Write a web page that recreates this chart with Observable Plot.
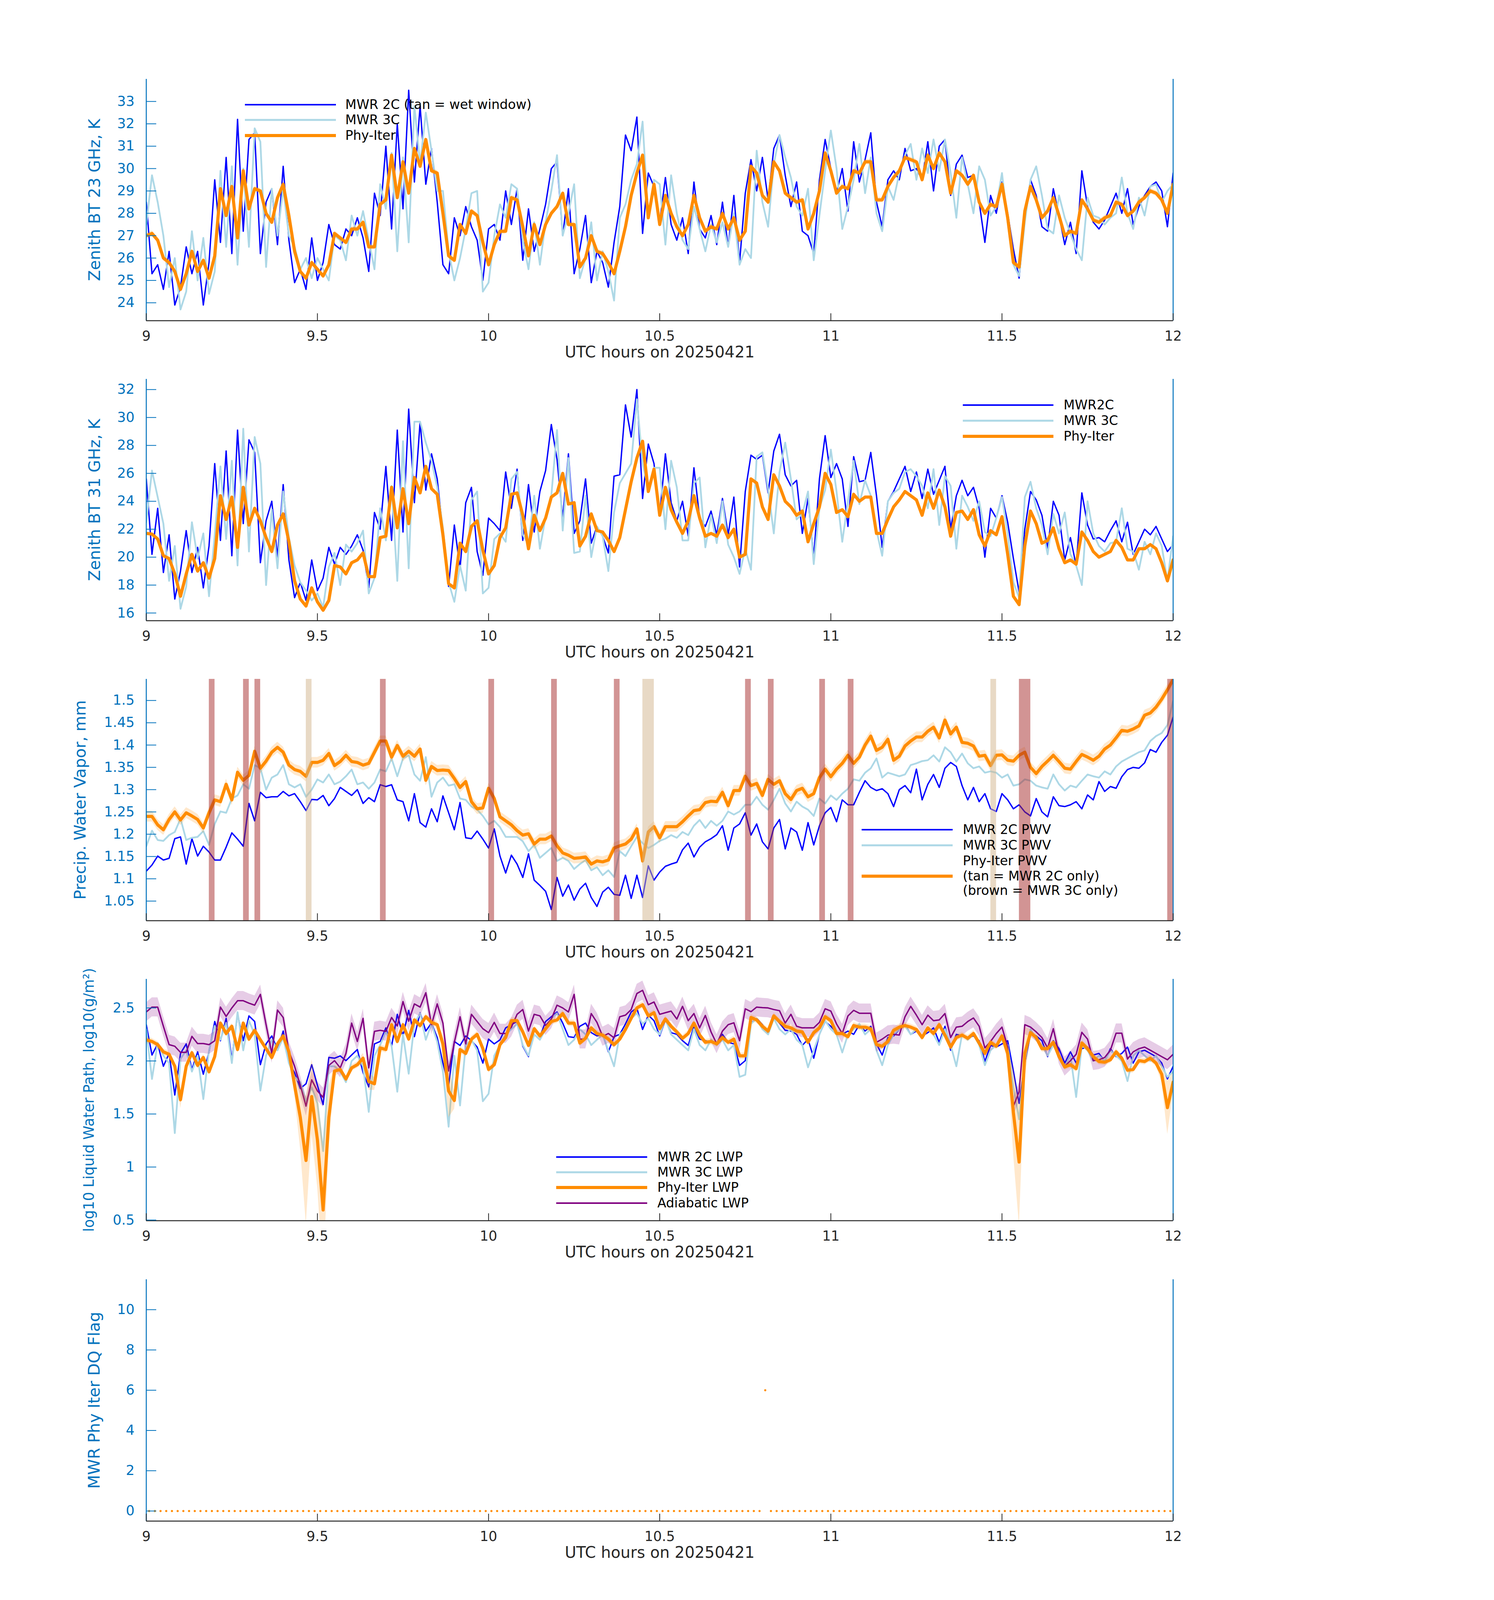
<!DOCTYPE html>
<html>
<head>
<meta charset="utf-8">
<script src="https://cdn.jsdelivr.net/npm/d3@7"></script>
<script src="https://cdn.jsdelivr.net/npm/@observablehq/plot@0.6"></script>
<style>
  html, body { margin: 0; padding: 0; background: #ffffff; overflow: hidden; }
  #page { position: relative; width: 3825px; background: #ffffff; font-family: "DejaVu Sans", sans-serif; overflow: hidden; }
  .lg { position: absolute; white-space: nowrap; line-height: 1; transform: translateY(-50%); color: #000; }
  .sw { position: absolute; transform: translateY(-50%); }
</style>
</head>
<body>
<div id="page"></div>
<script>
// ---------------- tick labels ----------------
const xTicks = [9, 9.5, 10, 10.5, 11, 11.5, 12];
const yTicks23 = [24, 25, 26, 27, 28, 29, 30, 31, 32, 33];
const yTicks31 = [16, 18, 20, 22, 24, 26, 28, 30, 32];
const yTicksPwv = [1.05, 1.1, 1.15, 1.2, 1.25, 1.3, 1.35, 1.4, 1.45, 1.5];
const yTicksLwp = [0.5, 1, 1.5, 2, 2.5];
const yTicksFlag = [0, 2, 4, 6, 8, 10];

// ---------------- panel 1: 23 GHz BT (K), one value per minute 9:00-12:00 ----------------
const tb23_2C = [
28.5,25.3,25.7,24.6,26.3,23.9,24.7,26.5,25.3,26.3,
23.9,25.8,29.5,26.7,30.5,26.2,32.2,27.2,31.3,31.6,
26.2,28.5,29.1,26.6,30.1,26.8,24.9,25.5,24.6,26.9,
25.0,25.8,27.5,26.6,26.4,27.3,27.0,27.8,26.9,25.4,
28.9,27.9,31.0,27.3,32.0,28.2,33.5,29.4,32.8,29.3,
30.9,28.5,25.7,25.3,27.8,27.0,28.3,27.4,26.8,25.0,
27.3,27.5,26.8,29.0,27.5,29.1,25.9,28.2,26.3,27.3,
28.4,30.0,30.3,27.0,29.1,25.3,26.4,27.9,24.9,26.3,
25.8,24.7,26.7,28.3,31.5,30.8,32.3,27.1,29.8,29.2,
27.6,29.6,27.5,26.8,27.8,26.2,29.4,27.3,26.9,27.9,
26.6,28.5,26.5,28.8,25.8,28.9,30.4,29.0,30.5,28.6,
30.9,31.5,29.7,28.3,29.4,27.2,27.0,26.2,29.5,31.3,
30.0,28.9,30.0,28.1,31.2,29.4,30.4,31.6,28.5,27.4,
29.5,29.9,29.5,30.9,29.9,30.0,29.5,31.2,29.0,31.0,
31.3,28.8,30.2,30.6,29.6,29.7,28.5,26.7,28.8,28.0,
29.4,28.0,26.4,25.1,27.8,29.5,28.8,27.4,27.2,29.1,
27.9,26.6,27.6,26.2,29.9,28.3,27.6,27.3,27.7,28.3,
28.9,28.0,29.1,27.5,28.3,28.8,29.2,29.4,29.0,27.4,
29.8];
const tb23_3C = [
27.5,29.7,28.5,27.0,24.7,26.0,23.7,24.5,27.2,25.0,
26.9,24.4,25.4,29.9,26.5,30.1,25.7,30.0,26.5,31.8,
31.2,25.6,29.1,27.0,29.1,27.0,26.5,25.5,26.0,25.1,
26.0,25.5,25.0,27.0,26.8,25.9,27.9,27.0,28.1,26.8,
25.5,29.3,28.2,30.7,26.3,30.5,26.7,32.8,30.2,32.5,
30.8,29.0,29.0,26.3,25.0,26.0,27.3,28.9,29.0,24.5,
24.9,27.0,28.4,27.8,29.3,29.1,26.8,25.5,27.6,25.7,
27.6,29.0,30.6,27.0,28.0,29.3,25.1,26.0,27.6,25.0,
26.3,25.4,24.1,27.8,28.4,29.5,30.2,32.1,27.8,29.5,
29.3,26.6,29.7,28.0,26.8,26.4,28.3,27.3,26.3,27.5,
26.7,27.6,26.5,28.0,25.7,26.4,26.0,30.8,28.5,27.4,
30.2,31.5,30.5,29.6,28.3,27.9,29.1,25.9,27.9,29.9,
31.7,30.0,27.3,28.3,29.5,31.1,28.9,30.5,28.0,27.2,
29.2,28.6,29.8,30.6,31.1,29.5,30.9,29.8,31.3,29.9,
31.3,29.8,27.8,30.5,29.3,28.0,30.1,29.5,27.9,28.3,
29.8,27.6,25.7,25.2,27.6,29.5,30.1,28.8,27.3,27.1,
28.8,27.8,27.1,26.4,25.9,28.7,27.9,27.8,27.5,27.8,
28.0,29.6,28.0,27.3,28.7,27.9,29.2,29.3,28.5,29.0,
29.3];
const tb23_phy = [
27.0,27.1,26.8,26.0,25.8,25.4,24.6,25.3,26.3,25.4,
25.9,25.1,26.1,29.1,27.9,29.2,26.9,29.9,28.2,29.1,
29.0,28.0,27.6,28.7,29.3,27.9,26.3,25.4,25.1,25.8,
25.5,25.2,25.7,27.1,26.9,26.7,27.3,27.3,27.6,26.5,
26.5,28.4,28.6,30.6,28.7,30.3,28.9,30.9,30.1,31.3,
29.9,29.8,28.0,26.1,25.9,27.5,27.1,28.1,27.9,26.7,
25.7,26.6,27.2,27.2,28.7,28.6,27.4,26.1,27.5,26.6,
27.5,28.0,28.3,28.9,27.5,27.5,25.6,26.0,27.0,26.3,
26.2,25.8,25.3,26.3,27.4,28.8,29.8,30.6,27.8,29.3,
27.5,28.8,28.0,27.4,27.0,27.5,28.8,27.8,27.2,27.4,
27.3,28.0,27.3,27.8,26.8,27.2,30.1,29.8,28.8,28.5,
30.3,29.9,28.9,28.7,28.5,28.6,27.3,28.0,29.0,30.7,
29.9,28.9,29.2,29.1,29.9,29.8,30.3,30.3,28.6,28.6,
29.2,29.6,29.9,30.5,30.4,30.3,29.5,30.6,30.0,30.7,
30.3,28.9,29.9,29.7,29.3,29.7,28.5,28.0,28.4,28.3,
29.3,27.8,25.8,25.6,28.1,29.2,28.6,27.8,28.1,28.7,
27.9,27.0,27.2,27.1,28.6,28.2,27.7,27.6,27.8,27.9,
28.5,28.4,27.9,28.1,28.5,28.7,29.0,28.9,28.6,28.0,
29.3];
const tb23_phyErr = 0.12;

// ---------------- panel 2: 31 GHz BT (K) ----------------
const tb31_2C = [
25.6,20.2,23.5,18.9,21.6,17.0,19.0,21.9,18.9,20.7,
17.8,20.8,26.7,21.2,27.6,20.1,29.1,22.4,28.4,27.5,
19.6,22.6,24.0,20.0,25.2,19.8,17.1,18.2,16.9,19.8,
17.6,18.5,20.7,19.5,20.7,20.2,20.8,21.6,20.5,17.8,
23.2,22.0,26.5,21.2,29.1,21.8,30.6,23.9,29.7,24.8,
27.4,25.6,21.8,17.9,22.3,19.2,23.9,25.0,20.4,18.7,
22.8,22.4,21.9,26.1,23.5,26.3,21.2,25.2,21.8,24.7,
26.2,29.5,27.0,22.8,27.4,21.7,22.6,25.6,21.0,22.2,
21.5,20.3,25.8,25.9,30.9,28.6,32.0,24.2,28.1,26.7,
23.0,27.4,23.9,22.6,24.0,21.5,26.4,22.8,22.2,23.3,
21.6,24.2,21.6,24.3,19.3,24.7,27.3,27.0,27.3,24.6,
27.6,28.8,25.9,25.1,25.5,21.7,24.2,20.0,25.6,28.7,
25.7,26.7,25.6,22.2,27.2,25.4,25.5,27.5,24.4,20.7,
24.0,24.7,25.6,26.5,24.7,26.1,24.2,26.3,24.5,25.5,
26.5,22.0,24.4,25.5,24.4,25.0,23.5,20.0,23.5,22.8,
24.4,22.5,19.9,17.5,22.0,24.7,24.1,23.0,20.6,24.0,
23.0,19.8,21.4,19.4,24.6,22.3,21.3,21.4,21.1,21.9,
22.6,21.1,22.5,20.2,21.1,22.0,21.6,22.2,21.3,20.4,
20.9];
const tb31_3C = [
22.5,26.2,24.3,22.4,18.3,20.8,16.3,17.9,22.5,19.9,
21.7,17.2,21.6,26.5,21.3,26.9,19.4,29.2,20.4,28.6,
26.7,18.0,23.4,19.2,24.7,21.4,19.4,18.2,17.6,16.9,
17.4,16.4,19.3,20.3,18.0,20.9,20.4,21.0,21.9,17.4,
18.5,23.5,21.2,25.1,18.3,28.3,19.2,29.7,29.7,28.2,
26.9,25.0,22.1,18.2,16.8,19.4,17.6,24.1,24.7,17.4,
17.8,21.3,21.7,21.1,25.6,26.1,21.6,20.9,24.4,20.6,
22.9,24.4,29.1,21.9,27.1,20.3,20.4,24.4,20.0,22.2,
21.5,19.0,23.2,25.3,26.0,26.7,31.3,26.7,24.9,26.4,
26.4,22.0,26.9,25.0,21.2,21.2,25.3,25.7,20.7,23.0,
21.0,24.0,20.9,20.0,18.8,20.6,19.1,27.2,27.5,24.9,
21.7,26.1,28.2,25.6,22.7,23.1,24.7,19.5,23.5,24.8,
27.7,24.7,21.1,24.0,26.9,23.8,25.5,24.4,21.9,20.1,
24.0,24.6,24.9,26.1,26.3,25.8,25.1,23.5,26.3,22.3,
25.8,25.1,20.6,24.4,23.6,22.6,24.0,21.8,21.5,22.8,
24.3,21.7,18.2,17.1,24.3,25.4,23.5,22.3,20.2,23.1,
21.7,23.2,20.2,19.4,18.0,24.0,21.7,20.8,20.4,21.0,
21.1,23.5,20.6,20.4,19.1,21.1,20.2,21.7,20.8,18.3,
21.5];
const tb31_phy = [
21.7,21.65,21.3,20.1,19.9,18.8,17.2,18.8,20.2,19.0,
19.6,18.5,19.9,24.4,22.7,24.3,20.7,25.0,22.3,23.5,
22.6,21.4,20.4,22.3,23.1,21.1,18.3,17.0,16.5,17.8,
16.8,16.2,16.9,19.4,19.3,18.8,19.6,19.8,20.3,18.6,
18.6,21.4,21.5,25.0,22.1,24.9,22.4,25.7,24.6,26.5,
24.9,24.5,21.6,18.1,17.8,21.0,20.4,22.2,22.6,20.5,
18.8,19.4,21.4,22.1,24.5,24.6,23.0,20.6,23.0,21.9,
22.8,24.3,24.6,26.0,23.8,23.9,20.8,21.5,23.1,21.9,
21.8,21.2,20.4,21.4,23.4,25.4,27.1,28.3,24.7,26.3,
23.0,25.0,23.4,22.5,21.7,22.6,24.4,22.8,21.5,21.7,
21.5,22.3,21.4,22.0,20.0,20.2,25.6,25.3,23.6,22.7,
25.9,25.1,24.0,23.6,23.0,23.3,21.1,22.4,23.6,26.0,
25.2,23.2,23.4,22.9,24.5,24.0,24.3,24.3,21.7,21.7,
22.7,23.6,24.1,24.7,24.4,24.1,23.0,24.6,23.5,24.8,
23.6,21.5,23.2,23.3,22.7,23.4,21.6,20.8,21.9,21.6,
22.9,20.2,17.2,16.6,20.8,23.3,22.4,21.0,21.2,22.1,
20.6,19.6,19.8,19.5,21.8,21.2,20.4,20.0,20.2,20.4,
21.2,20.7,19.8,19.8,20.6,20.6,20.9,20.6,19.6,18.3,
19.8];
const tb31_phyErr = 0.1;

// ---------------- panel 3: precipitable water vapour (mm) ----------------
const pwv2C = [
1.117,1.131,1.151,1.142,1.146,1.190,1.194,1.133,1.190,1.151,
1.173,1.160,1.142,1.142,1.171,1.203,1.189,1.173,1.269,1.230,
1.294,1.282,1.284,1.284,1.296,1.286,1.291,1.273,1.253,1.278,
1.277,1.287,1.264,1.280,1.305,1.296,1.287,1.300,1.269,1.282,
1.273,1.311,1.307,1.311,1.277,1.273,1.230,1.291,1.226,1.216,
1.257,1.228,1.286,1.248,1.210,1.271,1.192,1.190,1.207,1.189,
1.169,1.212,1.151,1.113,1.153,1.133,1.103,1.156,1.097,1.085,
1.072,1.031,1.103,1.061,1.086,1.052,1.077,1.090,1.058,1.038,
1.070,1.081,1.065,1.063,1.108,1.056,1.108,1.058,1.129,1.097,
1.115,1.128,1.133,1.137,1.165,1.180,1.149,1.171,1.183,1.190,
1.199,1.219,1.164,1.214,1.223,1.248,1.198,1.223,1.183,1.167,
1.214,1.233,1.167,1.214,1.205,1.164,1.226,1.176,1.219,1.248,
1.260,1.228,1.277,1.266,1.266,1.294,1.320,1.305,1.298,1.302,
1.291,1.262,1.300,1.309,1.293,1.346,1.277,1.312,1.334,1.305,
1.348,1.361,1.352,1.309,1.277,1.305,1.273,1.291,1.257,1.251,
1.291,1.277,1.257,1.266,1.250,1.241,1.280,1.250,1.239,1.284,
1.264,1.262,1.266,1.273,1.257,1.288,1.277,1.318,1.296,1.307,
1.303,1.329,1.345,1.350,1.348,1.360,1.390,1.384,1.406,1.422,
1.463];
const pwv3C = [
1.173,1.208,1.187,1.185,1.198,1.205,1.235,1.187,1.192,1.194,
1.207,1.176,1.223,1.251,1.248,1.280,1.287,1.312,1.302,1.355,
1.348,1.300,1.327,1.334,1.355,1.312,1.305,1.312,1.284,1.300,
1.323,1.316,1.334,1.312,1.318,1.330,1.345,1.312,1.316,1.302,
1.316,1.345,1.341,1.370,1.330,1.370,1.377,1.334,1.320,1.373,
1.284,1.316,1.327,1.309,1.312,1.280,1.277,1.262,1.255,1.241,
1.222,1.230,1.216,1.194,1.194,1.194,1.184,1.162,1.176,1.147,
1.158,1.169,1.140,1.147,1.140,1.122,1.133,1.142,1.119,1.126,
1.108,1.119,1.104,1.162,1.151,1.173,1.194,1.180,1.169,1.176,
1.185,1.190,1.198,1.192,1.205,1.198,1.219,1.232,1.214,1.230,
1.219,1.230,1.251,1.244,1.251,1.266,1.266,1.284,1.266,1.255,
1.277,1.302,1.269,1.251,1.273,1.262,1.255,1.241,1.280,1.269,
1.287,1.277,1.291,1.302,1.323,1.320,1.338,1.348,1.370,1.327,
1.338,1.334,1.330,1.334,1.355,1.359,1.364,1.366,1.377,1.363,
1.395,1.384,1.363,1.381,1.359,1.348,1.352,1.338,1.341,1.338,
1.327,1.334,1.309,1.312,1.323,1.320,1.309,1.305,1.302,1.334,
1.312,1.298,1.309,1.305,1.320,1.334,1.330,1.327,1.341,1.334,
1.352,1.363,1.370,1.377,1.384,1.388,1.409,1.420,1.427,1.445,
1.499];
const pwvPhy = [
1.240,1.240,1.221,1.210,1.233,1.250,1.232,1.248,1.241,1.233,
1.214,1.248,1.277,1.273,1.312,1.277,1.339,1.321,1.332,1.386,
1.348,1.364,1.384,1.395,1.384,1.355,1.345,1.341,1.330,1.361,
1.361,1.366,1.381,1.354,1.363,1.377,1.363,1.361,1.355,1.359,
1.384,1.409,1.409,1.373,1.399,1.375,1.386,1.375,1.391,1.321,
1.352,1.343,1.344,1.343,1.325,1.305,1.318,1.273,1.257,1.259,
1.303,1.280,1.239,1.230,1.221,1.208,1.198,1.201,1.178,1.189,
1.189,1.196,1.174,1.158,1.153,1.146,1.147,1.149,1.133,1.140,
1.138,1.142,1.169,1.174,1.178,1.189,1.212,1.140,1.205,1.217,
1.192,1.217,1.217,1.217,1.228,1.241,1.253,1.255,1.271,1.274,
1.273,1.294,1.264,1.298,1.298,1.330,1.309,1.314,1.287,1.323,
1.312,1.320,1.291,1.278,1.298,1.303,1.284,1.291,1.327,1.346,
1.329,1.346,1.359,1.377,1.359,1.373,1.400,1.420,1.388,1.395,
1.413,1.366,1.375,1.398,1.409,1.418,1.418,1.431,1.440,1.416,
1.456,1.425,1.440,1.406,1.404,1.398,1.375,1.377,1.354,1.377,
1.378,1.366,1.364,1.377,1.384,1.350,1.336,1.352,1.364,1.377,
1.363,1.348,1.346,1.363,1.379,1.373,1.366,1.375,1.391,1.400,
1.416,1.433,1.431,1.436,1.443,1.467,1.472,1.485,1.503,1.524,
1.547];
const pwvPhyErr = 0.012;
// shaded flags, in minutes after 09:00
const tanStart = [28, 87, 148];
const tanEnd   = [29, 89, 149];
const brownStart = [11, 17, 19, 41, 60, 71, 82, 105, 109, 118, 123, 153, 179];
const brownEnd   = [12, 18, 20, 42, 61, 72, 83, 106, 110, 119, 124, 155, 180];

// ---------------- panel 4: log10 liquid water path ----------------
const lwp2C = [
2.342,2.056,2.161,1.950,2.071,1.679,2.071,2.161,1.920,2.086,
1.875,2.086,2.372,2.191,2.402,2.018,2.440,2.191,2.425,2.372,
1.965,2.161,2.236,2.108,2.282,1.980,1.890,1.740,1.785,1.965,
1.770,1.589,2.033,2.026,2.048,2.003,2.056,2.108,1.890,1.755,
2.161,2.184,2.312,2.139,2.440,2.236,2.477,2.229,2.455,2.282,
2.357,2.221,1.980,1.770,2.184,2.146,2.236,2.191,2.131,1.980,
2.206,2.161,2.199,2.312,2.342,2.372,2.139,2.041,2.297,2.229,
2.372,2.417,2.462,2.357,2.229,2.221,2.327,2.357,2.267,2.236,
2.251,2.086,2.229,2.251,2.349,2.462,2.500,2.297,2.432,2.380,
2.236,2.387,2.267,2.251,2.191,2.146,2.327,2.206,2.191,2.176,
2.161,2.251,2.176,2.161,1.958,2.003,2.357,2.402,2.342,2.267,
2.417,2.357,2.289,2.282,2.251,2.146,2.206,2.026,2.251,2.372,
2.327,2.267,2.251,2.282,2.251,2.342,2.282,2.327,2.161,2.056,
2.221,2.236,2.297,2.342,2.251,2.282,2.236,2.267,2.312,2.176,
2.327,2.101,2.251,2.236,2.221,2.236,2.191,1.995,2.146,2.131,
2.161,2.191,1.905,1.600,1.980,2.251,2.236,2.191,2.041,2.191,
2.116,1.980,2.086,1.980,2.116,2.131,2.056,2.071,1.995,2.116,
2.041,2.071,2.131,1.980,2.086,2.101,2.071,2.041,1.980,1.830,
1.950];
const lwp3C = [
2.30,1.83,2.17,2.05,1.98,1.32,2.02,2.10,1.90,2.05,
1.64,2.10,2.33,2.20,2.36,1.98,2.46,2.10,2.38,2.25,
1.72,2.05,2.20,2.10,2.22,1.98,1.85,1.80,1.62,1.75,
1.60,1.15,1.95,1.95,1.90,1.80,2.00,2.05,1.95,1.52,
2.05,2.15,2.28,2.14,1.71,2.25,1.88,2.35,2.45,2.20,
2.35,2.18,1.90,1.38,2.05,1.58,2.15,2.20,2.10,1.62,
1.69,2.05,2.15,2.25,2.30,2.35,2.15,2.05,2.25,2.20,
2.30,2.40,2.45,2.30,2.15,2.20,2.30,2.25,2.15,2.20,
2.25,2.10,1.95,2.25,2.30,2.40,2.45,2.35,2.40,2.30,
2.25,2.40,2.25,2.20,2.15,2.10,2.30,2.15,2.10,2.20,
2.15,2.20,2.10,2.15,1.85,1.87,2.35,2.40,2.30,2.25,
2.40,2.30,2.25,2.30,2.20,2.15,1.94,2.10,2.25,2.38,
2.30,2.25,2.08,2.25,2.30,2.35,2.25,2.30,2.10,1.96,
2.15,2.25,2.30,2.33,2.25,2.30,2.22,2.30,2.25,2.15,
2.30,2.15,1.95,2.25,2.20,2.25,2.15,1.96,2.10,2.15,
2.20,2.15,1.75,1.45,2.00,2.30,2.20,2.15,2.05,2.15,
2.05,1.95,2.05,1.66,2.15,2.10,2.00,2.05,2.00,2.10,
2.05,2.00,1.81,2.05,2.10,2.05,2.00,2.05,1.95,1.85,
1.90];
const lwpPhy = [
2.199,2.184,2.154,2.086,2.063,1.950,1.634,1.950,2.078,1.958,
2.033,1.898,2.041,2.357,2.259,2.327,2.108,2.357,2.206,2.289,
2.199,2.116,2.033,2.161,2.236,2.086,1.770,1.468,1.062,1.664,
1.257,0.595,1.468,1.905,1.920,1.830,1.935,1.965,2.026,1.807,
1.785,2.123,2.108,2.342,2.184,2.342,2.206,2.387,2.334,2.417,
2.364,2.342,2.161,1.717,1.627,2.108,2.071,2.206,2.251,2.116,
1.920,1.965,2.154,2.221,2.380,2.380,2.274,2.146,2.304,2.236,
2.304,2.372,2.387,2.447,2.357,2.357,2.169,2.214,2.312,2.259,
2.244,2.206,2.154,2.206,2.297,2.402,2.500,2.530,2.425,2.455,
2.304,2.395,2.327,2.274,2.214,2.259,2.357,2.244,2.176,2.184,
2.161,2.221,2.176,2.206,2.048,2.048,2.410,2.387,2.327,2.282,
2.425,2.372,2.327,2.312,2.282,2.274,2.176,2.267,2.312,2.417,
2.380,2.259,2.259,2.229,2.334,2.319,2.319,2.304,2.154,2.139,
2.184,2.289,2.319,2.334,2.319,2.297,2.221,2.312,2.259,2.342,
2.244,2.131,2.221,2.244,2.214,2.259,2.169,2.071,2.176,2.139,
2.236,2.071,1.514,1.047,2.071,2.267,2.221,2.116,2.116,2.176,
2.041,1.943,1.965,1.928,2.169,2.116,2.041,1.995,1.988,2.011,
2.086,2.026,1.913,1.920,2.003,1.995,2.026,1.980,1.875,1.560,
1.800];
const lwpPhyErr = [
.03,.03,.03,.03,.03,.03,.08,.03,.03,.03,
.03,.03,.03,.03,.03,.03,.03,.03,.03,.03,
.03,.03,.03,.03,.03,.03,.10,.30,.60,.35,
.45,.60,.30,.05,.03,.03,.03,.03,.05,.08,
.06,.03,.03,.03,.03,.03,.03,.03,.03,.03,
.03,.03,.08,.25,.08,.03,.03,.03,.03,.03,
.03,.03,.03,.03,.03,.03,.03,.03,.03,.03,
.03,.03,.03,.03,.03,.03,.03,.03,.03,.03,
.03,.03,.03,.03,.03,.03,.03,.03,.03,.03,
.03,.03,.03,.03,.03,.03,.03,.03,.03,.03,
.03,.03,.03,.03,.03,.03,.03,.03,.03,.03,
.03,.03,.03,.03,.03,.03,.03,.03,.03,.03,
.03,.03,.03,.03,.03,.03,.03,.03,.03,.03,
.03,.03,.03,.03,.03,.03,.03,.03,.03,.03,
.03,.03,.03,.03,.03,.03,.03,.03,.03,.03,
.03,.08,.40,.60,.25,.03,.03,.03,.03,.03,
.03,.03,.03,.03,.03,.03,.03,.03,.03,.03,
.03,.03,.03,.03,.03,.03,.03,.03,.08,.25,
.10];
const lwpAdi = [
2.462,2.508,2.508,2.327,2.154,2.139,2.081,2.081,2.232,2.164,
2.164,2.154,2.191,2.508,2.420,2.500,2.568,2.568,2.545,2.526,
2.628,2.342,2.071,2.480,2.410,2.093,1.950,1.770,1.574,1.822,
1.717,1.657,1.958,2.003,1.935,2.071,2.357,2.184,2.402,1.935,
2.279,2.289,2.279,2.410,2.330,2.560,2.375,2.538,2.508,2.643,
2.342,2.538,2.357,1.905,2.176,2.417,2.161,2.440,2.372,2.304,
2.267,2.364,2.259,2.259,2.319,2.440,2.485,2.282,2.440,2.425,
2.334,2.395,2.526,2.500,2.462,2.628,2.206,2.206,2.447,2.364,
2.232,2.259,2.218,2.417,2.432,2.485,2.636,2.666,2.530,2.556,
2.440,2.455,2.470,2.395,2.515,2.380,2.447,2.312,2.429,2.274,
2.161,2.282,2.342,2.360,2.191,2.492,2.465,2.508,2.503,2.500,
2.485,2.474,2.357,2.440,2.327,2.312,2.312,2.312,2.364,2.492,
2.470,2.349,2.259,2.425,2.477,2.450,2.450,2.450,2.176,2.206,
2.244,2.251,2.244,2.417,2.515,2.432,2.342,2.432,2.380,2.387,
2.447,2.221,2.319,2.327,2.372,2.405,2.327,2.123,2.184,2.259,
2.319,2.131,1.574,1.709,2.342,2.319,2.274,2.221,2.123,2.304,
2.063,1.950,2.003,2.063,2.270,2.206,2.003,2.011,2.033,2.101,
2.262,2.262,2.018,2.086,2.116,2.131,2.101,2.071,2.041,2.011,
2.063];
const lwpAdiErr = 0.09;

// ---------------- panel 5: data-quality flag, one per minute (centred on the half minute) ----------------
const dqFlag = [
0,0,0,0,0,0,0,0,0,0, 0,0,0,0,0,0,0,0,0,0, 0,0,0,0,0,0,0,0,0,0,
0,0,0,0,0,0,0,0,0,0, 0,0,0,0,0,0,0,0,0,0, 0,0,0,0,0,0,0,0,0,0,
0,0,0,0,0,0,0,0,0,0, 0,0,0,0,0,0,0,0,0,0, 0,0,0,0,0,0,0,0,0,0,
0,0,0,0,0,0,0,0,0,0, 0,0,0,0,0,0,0,0,6,0, 0,0,0,0,0,0,0,0,0,0,
0,0,0,0,0,0,0,0,0,0, 0,0,0,0,0,0,0,0,0,0, 0,0,0,0,0,0,0,0,0,0,
0,0,0,0,0,0,0,0,0,0, 0,0,0,0,0,0,0,0,0,0, 0,0,0,0,0,0,0,0,0,0];

// ---------------- time grids ----------------
const tMin = d3.range(tb23_2C.length).map(i => 9 + i / 60);
const tFlag = d3.range(dqFlag.length).map(i => 9 + (i + 0.5) / 60);
const toHour = m => 9 + m / 60;

// ---------------- layout (design is 3825 x 6000; compress vertically if the window is shorter) ----------------
const DESIGN_H = 6000;
const K = Math.min(1, (window.innerHeight || DESIGN_H) / DESIGN_H);
const FS = Math.pow(K, 0.35);
const page = document.getElementById("page");
page.style.height = Math.floor(DESIGN_H * K) + "px";

const AX = "#0072BD", DARK = "#262626";
const C2 = "#0000FF", C3 = "#ADD8E6", CP = "#FF8C00", CA = "#800080";
const FONT = "DejaVu Sans";

function panel({top, bottom, yDomain, yTicks, yFormat, yLabel, labelX, labelEm, marks}) {
  const T = top * K, B = bottom * K, h = B - T;
  const mt = 60 * K, mb = 200 * K;
  const labelSize = Math.min(47 * FS, 1.1 * h / labelEm);
  const svg = Plot.plot({
    width: 3825, height: Math.round(h + mt + mb),
    marginLeft: 374, marginRight: 822, marginTop: mt, marginBottom: mb,
    style: {fontFamily: FONT, background: "none", overflow: "visible"},
    x: {domain: [9, 12]},
    y: {domain: yDomain},
    marks: [
      ...marks,
      Plot.ruleX([9], {stroke: AX, strokeWidth: 2.5}),
      Plot.ruleX([12], {stroke: AX, strokeWidth: 2.5}),
      Plot.ruleY([yDomain[0]], {stroke: DARK, strokeWidth: 2.5}),
      Plot.axisY(yTicks, {anchor: "left", tickSize: -26, tickPadding: 56, color: AX, strokeWidth: 2,
        fontSize: 40 * FS, tickFormat: yFormat || (d => String(d)), label: null}),
      Plot.axisX(xTicks, {anchor: "bottom", tickSize: -27 * K, tickPadding: 27 * K + 38 * K, color: DARK, strokeWidth: 2,
        fontSize: 40 * FS, tickFormat: d => String(d), label: null}),
      Plot.text([yLabel], {text: d => d, frameAnchor: "left", dx: labelX - 374, rotate: -90,
        textAnchor: "middle", lineAnchor: "middle", fontSize: labelSize, fill: AX}),
      Plot.text(["UTC hours on 20250421"], {text: d => d, frameAnchor: "bottom", dy: 119 * K,
        textAnchor: "middle", lineAnchor: "middle", fontSize: 46 * FS, fill: DARK})
    ]
  });
  svg.style.position = "absolute";
  svg.style.left = "0px";
  svg.style.top = (T - mt) + "px";
  page.appendChild(svg);
}

function line(values, stroke, w, xs) {
  return Plot.lineY(values, {x: xs || tMin, stroke, strokeWidth: w, strokeLinejoin: "round", clip: true});
}
function band(values, err, fill, op) {
  const e = i => Array.isArray(err) ? err[i] : err;
  return Plot.areaY(values, {x: tMin, y1: values.map((v, i) => v - e(i)), y2: values.map((v, i) => v + e(i)),
    fill, fillOpacity: op, clip: true});
}

// Panel 1
panel({top: 296, bottom: 1202, yDomain: [23.2, 34.0], yTicks: yTicks23, yLabel: "Zenith BT 23 GHz, K", labelX: 242, labelEm: 10.2,
  marks: [line(tb23_2C, C2, 3.5), line(tb23_3C, C3, 4.5), band(tb23_phy, tb23_phyErr, CP, 0.2), line(tb23_phy, CP, 8)]});
// Panel 2
panel({top: 1421, bottom: 2327, yDomain: [15.45, 32.75], yTicks: yTicks31, yLabel: "Zenith BT 31 GHz, K", labelX: 242, labelEm: 10.2,
  marks: [line(tb31_2C, C2, 3.5), line(tb31_3C, C3, 4.5), band(tb31_phy, tb31_phyErr, CP, 0.2), line(tb31_phy, CP, 8)]});
// Panel 3
panel({top: 2546, bottom: 3452, yDomain: [1.006, 1.548], yTicks: yTicksPwv, yFormat: d => String(+d.toFixed(2)),
  yLabel: "Precip. Water Vapor, mm", labelX: 205, labelEm: 11.6,
  marks: [line(pwv2C, C2, 3.5), line(pwv3C, C3, 4.5), band(pwvPhy, pwvPhyErr, CP, 0.2), line(pwvPhy, CP, 8),
    Plot.rect(tanStart, {x1: d => toHour(d), x2: (d, i) => toHour(tanEnd[i]), y1: 1.006, y2: 1.548, fill: "#D2B48C", fillOpacity: 0.5}),
    Plot.rect(brownStart, {x1: d => toHour(d), x2: (d, i) => toHour(brownEnd[i]), y1: 1.006, y2: 1.548, fill: "#A52A2A", fillOpacity: 0.5})]});
// Panel 4
panel({top: 3671, bottom: 4577, yDomain: [0.494, 2.772], yTicks: yTicksLwp, yLabel: "log10 Liquid Water Path, log10(g/m²)", labelX: 228, labelEm: 18.6,
  marks: [line(lwp2C, C2, 3.5), line(lwp3C, C3, 4.5), band(lwpAdi, lwpAdiErr, CA, 0.2), line(lwpAdi, CA, 3.5),
    band(lwpPhy, lwpPhyErr, CP, 0.2), line(lwpPhy, CP, 8)]});
// Panel 5
panel({top: 4797, bottom: 5703, yDomain: [-0.5, 11.5], yTicks: yTicksFlag, yLabel: "MWR Phy Iter DQ Flag", labelX: 241, labelEm: 10.8,
  marks: [Plot.dot(dqFlag, {x: tFlag, y: d => d, r: 2.7, fill: CP, stroke: "none", clip: true})]});

// ---------------- legends ----------------
function legend(x1, x2, textX, rows) {
  for (const r of rows) {
    const s = document.createElement("div");
    s.className = "sw";
    s.style.left = x1 + "px"; s.style.width = (x2 - x1) + "px";
    s.style.top = (r.y * K) + "px"; s.style.height = r.w + "px"; s.style.background = r.color;
    page.appendChild(s);
    for (const [k, t] of r.text.entries()) {
      const d = document.createElement("div");
      d.className = "lg";
      d.style.fontSize = (38 * FS) + "px";
      d.style.left = textX + "px";
      d.style.top = ((r.ty ? r.ty[k] : r.y) * K) + "px";
      d.textContent = t;
      page.appendChild(d);
    }
  }
}
legend(627, 860, 884, [
  {y: 392, color: C2, w: 4, text: ["MWR 2C (tan = wet window)"]},
  {y: 450, color: C3, w: 5, text: ["MWR 3C"]},
  {y: 508, color: CP, w: 8, text: ["Phy-Iter"]}
]);
legend(2465, 2697, 2723, [
  {y: 1519, color: C2, w: 4, text: ["MWR2C"]},
  {y: 1578, color: C3, w: 5, text: ["MWR 3C"]},
  {y: 1636, color: CP, w: 8, text: ["Phy-Iter"]}
]);
legend(2206, 2439, 2465, [
  {y: 3112, color: C2, w: 4, text: ["MWR 2C PWV"]},
  {y: 3170, color: C3, w: 5, text: ["MWR 3C PWV"]},
  {y: 3285, color: CP, w: 8, text: ["Phy-Iter PWV", "(tan = MWR 2C only)", "(brown = MWR 3C only)"], ty: [3229, 3285, 3340]}
]);
legend(1424, 1657, 1683, [
  {y: 4339, color: C2, w: 4, text: ["MWR 2C LWP"]},
  {y: 4396, color: C3, w: 5, text: ["MWR 3C LWP"]},
  {y: 4453, color: CP, w: 8, text: ["Phy-Iter LWP"]},
  {y: 4512, color: CA, w: 4, text: ["Adiabatic LWP"]}
]);
</script>
</body>
</html>
